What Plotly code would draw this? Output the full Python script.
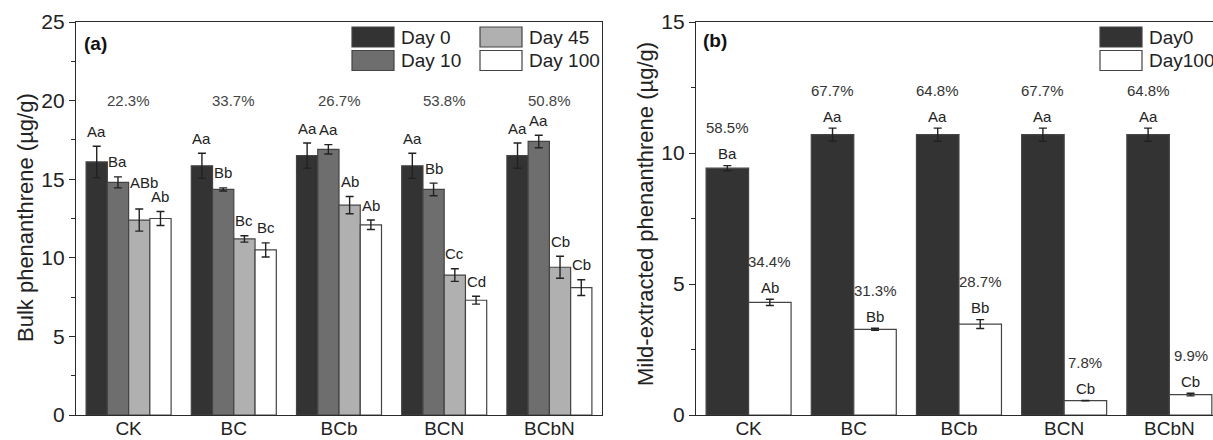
import plotly.graph_objects as go

# ---------------- data ----------------
categories = ["CK", "BC", "BCb", "BCN", "BCbN"]

a_series = ["Day 0", "Day 10", "Day 45", "Day 100"]
a_day0 = [16.1, 15.85, 16.5, 15.85, 16.5]
a_day0_err = [1.0, 0.8, 0.8, 0.8, 0.8]
a_day10 = [14.8, 14.35, 16.9, 14.35, 17.4]
a_day10_err = [0.35, 0.1, 0.3, 0.4, 0.4]
a_day45 = [12.4, 11.2, 13.35, 8.9, 9.4]
a_day45_err = [0.7, 0.2, 0.55, 0.4, 0.7]
a_day100 = [12.5, 10.5, 12.1, 7.3, 8.1]
a_day100_err = [0.45, 0.45, 0.3, 0.25, 0.5]
a_lab_day0 = ["Aa", "Aa", "Aa", "Aa", "Aa"]
a_lab_day10 = ["Ba", "Bb", "Aa", "Bb", "Aa"]
a_lab_day45 = ["ABb", "Bc", "Ab", "Cc", "Cb"]
a_lab_day100 = ["Ab", "Bc", "Ab", "Cd", "Cb"]
a_pct = ["22.3%", "33.7%", "26.7%", "53.8%", "50.8%"]

b_series = ["Day0", "Day100"]
b_day0 = [9.42, 10.7, 10.7, 10.7, 10.7]
b_day0_err = [0.1, 0.25, 0.25, 0.25, 0.25]
b_day100 = [4.3, 3.27, 3.47, 0.55, 0.78]
b_day100_err = [0.12, 0.04, 0.17, 0.01, 0.05]
b_lab_day0 = ["Ba", "Aa", "Aa", "Aa", "Aa"]
b_lab_day100 = ["Ab", "Bb", "Bb", "Cb", "Cb"]
b_pct_day0 = ["58.5%", "67.7%", "64.8%", "67.7%", "64.8%"]
b_pct_day100 = ["34.4%", "31.3%", "28.7%", "7.8%", "9.9%"]

# ---------------- style ----------------
W, H = 1213, 440
FONT = "Arial, Liberation Sans, sans-serif"
AX = "#2a2a2a"
EDGE = "#444444"
a_colors = ["#333333", "#6e6e6e", "#b0b0b0", "#ffffff"]
b_colors = ["#333333", "#ffffff"]
BARGAP = 0.192
YDOM = [25 / H, 1 - 22 / H]
XDOM_A = [76 / W, 602 / W]
XDOM_B = [696 / W, 1.0]


def px_x(p):
    return p / W


def px_y(p):
    return 1 - p / H


fig = go.Figure()

a_vals = [a_day0, a_day10, a_day45, a_day100]
a_errs = [a_day0_err, a_day10_err, a_day45_err, a_day100_err]
a_labs = [a_lab_day0, a_lab_day10, a_lab_day45, a_lab_day100]
for name, vals, errs, col in zip(a_series, a_vals, a_errs, a_colors):
    fig.add_trace(go.Bar(
        x=categories, y=vals, name=name, xaxis="x", yaxis="y",
        marker=dict(color=col, line=dict(color=EDGE, width=1.2)),
        error_y=dict(type="data", array=errs, color="#222", thickness=1.4, width=4),
        showlegend=False,
    ))

b_vals = [b_day0, b_day100]
b_errs = [b_day0_err, b_day100_err]
b_labs = [b_lab_day0, b_lab_day100]
b_pcts = [b_pct_day0, b_pct_day100]
for name, vals, errs, col in zip(b_series, b_vals, b_errs, b_colors):
    fig.add_trace(go.Bar(
        x=categories, y=vals, name=name, xaxis="x2", yaxis="y2",
        marker=dict(color=col, line=dict(color=EDGE, width=1.2)),
        error_y=dict(type="data", array=errs, color="#222", thickness=1.4, width=4),
        showlegend=False,
    ))

annotations = []
shapes = []

# letter labels panel (a); long labels are lifted so they clear their neighbour
n = len(a_series)
bw = (1 - BARGAP) / n
for i in range(n):
    off = (i - (n - 1) / 2) * bw
    for j, c in enumerate(categories):
        txt = a_labs[i][j]
        long = len(txt) > 2
        annotations.append(dict(
            x=j + off, y=a_vals[i][j] + a_errs[i][j], xref="x", yref="y",
            text=txt, showarrow=False, yanchor="middle",
            yshift=27 if long else 15, xshift=5 if long else 0,
            font=dict(family=FONT, size=15, color="#222")))
for j, c in enumerate(categories):
    annotations.append(dict(
        x=j, y=20, xref="x", yref="y", text=a_pct[j], showarrow=False,
        yanchor="middle", font=dict(family=FONT, size=15, color="#444")))

# labels panel (b)
n = len(b_series)
bw = (1 - BARGAP) / n
for i in range(n):
    off = (i - (n - 1) / 2) * bw
    for j, c in enumerate(categories):
        top = b_vals[i][j] + b_errs[i][j]
        annotations.append(dict(
            x=j + off, y=top, xref="x2", yref="y2", text=b_labs[i][j],
            showarrow=False, yanchor="middle", yshift=12,
            font=dict(family=FONT, size=15, color="#222")))
        annotations.append(dict(
            x=j + off, y=top, xref="x2", yref="y2", text=b_pcts[i][j],
            showarrow=False, yanchor="middle", yshift=38,
            font=dict(family=FONT, size=15, color="#333")))

# panel tags
annotations.append(dict(x=px_x(82), y=px_y(43), xref="paper", yref="paper",
                        text="<b>(a)</b>", showarrow=False, xanchor="left",
                        yanchor="middle", font=dict(family=FONT, size=19, color="#111")))
annotations.append(dict(x=px_x(701), y=px_y(41), xref="paper", yref="paper",
                        text="<b>(b)</b>", showarrow=False, xanchor="left",
                        yanchor="middle", font=dict(family=FONT, size=19, color="#111")))

# y titles
annotations.append(dict(x=px_x(25), y=px_y(218), xref="paper", yref="paper",
                        text="Bulk phenanthrene (µg/g)", textangle=-90, showarrow=False,
                        xanchor="center", yanchor="middle",
                        font=dict(family=FONT, size=22, color="#222")))
annotations.append(dict(x=px_x(645), y=px_y(214), xref="paper", yref="paper",
                        text="Mild-extracted phenanthrene (µg/g)", textangle=-90,
                        showarrow=False, xanchor="center", yanchor="middle",
                        font=dict(family=FONT, size=22, color="#222")))


# manual legends
def legend_item(x0, x1, y0, y1, color, label):
    shapes.append(dict(type="rect", xref="paper", yref="paper",
                       x0=px_x(x0), x1=px_x(x1), y0=px_y(y1), y1=px_y(y0),
                       fillcolor=color, line=dict(color=EDGE, width=1.2)))
    annotations.append(dict(x=px_x(x1 + 5), y=px_y((y0 + y1) / 2), xref="paper",
                            yref="paper", text=label, showarrow=False,
                            xanchor="left", yanchor="middle",
                            font=dict(family=FONT, size=19, color="#222")))


legend_item(352, 394, 27, 47, a_colors[0], a_series[0])
legend_item(352, 394, 50.5, 70.5, a_colors[1], a_series[1])
legend_item(480, 522, 27, 47, a_colors[2], a_series[2])
legend_item(480, 522, 50.5, 70.5, a_colors[3], a_series[3])
legend_item(1100, 1142, 27, 47, b_colors[0], b_series[0])
legend_item(1100, 1142, 50.5, 70.5, b_colors[1], b_series[1])

axis_common = dict(showline=True, linecolor=AX, linewidth=1.3, showgrid=False,
                   zeroline=False, automargin=False)

fig.update_layout(
    width=W, height=H,
    margin=dict(l=0, r=0, t=0, b=0),
    paper_bgcolor="white", plot_bgcolor="white",
    barmode="group", bargap=BARGAP, bargroupgap=0,
    font=dict(family=FONT, color="#222"),
    annotations=annotations, shapes=shapes,
    xaxis=dict(domain=XDOM_A, anchor="y", range=[-0.5, 4.5], mirror=True,
               ticks="", ticklabelstandoff=-4,
               tickfont=dict(size=19, color="#222"), **axis_common),
    yaxis=dict(domain=YDOM, anchor="x", range=[0, 25], dtick=5, mirror=True,
               ticks="outside", ticklen=6, tickcolor=AX, tickwidth=1.2,
               tickfont=dict(size=21, color="#222"),
               minor=dict(dtick=2.5, ticks="outside", ticklen=3.5, tickcolor=AX),
               **axis_common),
    xaxis2=dict(domain=XDOM_B, anchor="y2", range=[-0.5, 4.415], mirror=True,
                ticks="", ticklabelstandoff=-4,
                tickfont=dict(size=19, color="#222"), **axis_common),
    yaxis2=dict(domain=YDOM, anchor="x2", range=[0, 15], dtick=5, mirror=False,
                ticks="outside", ticklen=6, tickcolor=AX, tickwidth=1.2,
                tickfont=dict(size=21, color="#222"),
                minor=dict(dtick=2.5, ticks="outside", ticklen=3.5, tickcolor=AX),
                **axis_common),
)

fig.write_html(
    "out.html",
    config={"displayModeBar": False},
    post_script="document.body.style.margin='0px';document.body.style.overflow='hidden';",
)
